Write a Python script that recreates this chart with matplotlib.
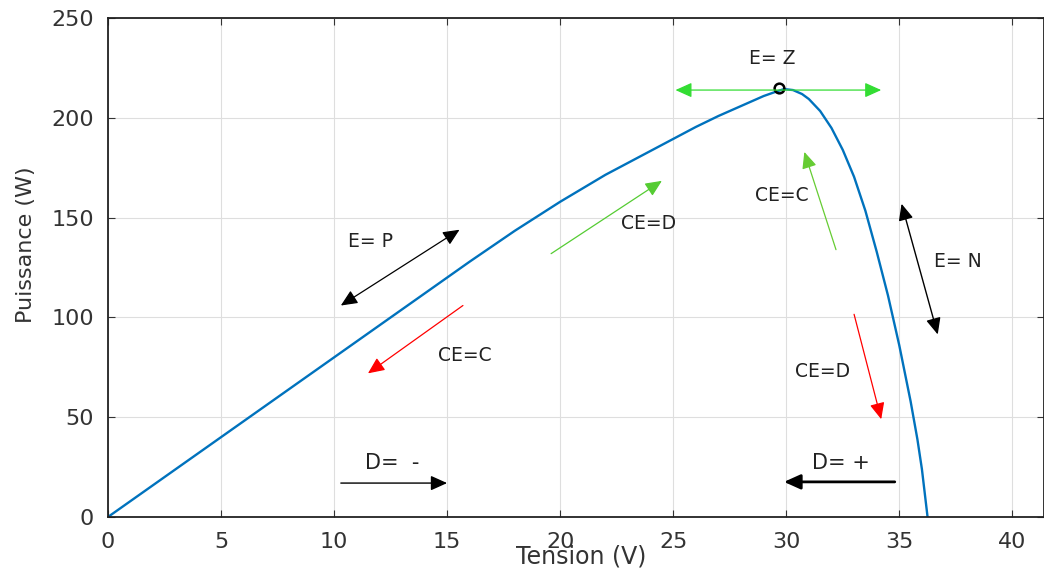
import numpy as np
import matplotlib.pyplot as plt

plt.rcParams['font.family'] = ['DejaVu Sans']

# P-V curve
tension = [0, 2, 4, 6, 8, 10, 12, 14, 16, 18, 20, 22, 24, 25, 26, 27, 28, 28.5,
           29, 29.5, 29.9, 30.3, 30.7, 31, 31.5, 32, 32.5, 33, 33.5, 34, 34.5,
           35, 35.5, 35.8, 36, 36.25]
puissance = [0, 16, 32, 48, 64, 80, 96, 112, 128, 143.5, 158, 171.5, 183.5,
             189.5, 195.5, 201, 206, 208.5, 211, 213, 214.5, 214, 212, 209.5,
             203.5, 195, 184, 170.5, 153.5, 133, 111, 86, 58, 39, 24, 0]
mpp = (29.7, 215)

# labels: (text, x, y)
labels = [
    ('E= Z', 29.4, 230),
    ('E= P', 11.6, 138),
    ('CE=C', 15.8, 81),
    ('CE=D', 23.9, 147),
    ('CE=C', 29.8, 161),
    ('E= N', 37.6, 128),
    ('CE=D', 31.6, 73),
    ('D=  -', 12.55, 27),
    ('D= +', 32.4, 27),
]
# arrows: (start, end, colour, style, width)
arrows = [
    ((25.1, 214), (34.2, 214), '#33dd33', '<|-|>', 0.9),
    ((10.3, 106), (15.55, 144), 'black', '<|-|>', 0.9),
    ((15.7, 106), (11.5, 72), 'red', '-|>', 0.9),
    ((19.6, 132), (24.5, 168.5), '#55cc33', '-|>', 0.9),
    ((32.2, 134), (30.8, 183), '#66cc33', '-|>', 0.9),
    ((35.1, 157), (36.7, 91.5), 'black', '<|-|>', 1.0),
    ((33.0, 101.6), (34.2, 49), 'red', '-|>', 0.9),
    ((10.3, 17), (15.0, 17), 'black', '-|>', 1.0),
    ((34.8, 17.6), (29.9, 17.6), 'black', '-|>', 2.0),
]

fig = plt.figure(figsize=(10.44, 5.7), dpi=100)
ax = fig.add_axes([0.1034, 0.093, 0.8966, 0.875])

ax.plot(tension, puissance, color='#0072BD', lw=1.7)
ax.plot(*mpp, 'o', mfc='none', mec='black', mew=1.8, ms=7)

for (x0, y0), (x1, y1), c, st, lw in arrows:
    ax.annotate('', xy=(x1, y1), xytext=(x0, y0),
                arrowprops=dict(arrowstyle=st + ',head_length=1.0,head_width=0.45',
                                color=c, lw=lw, shrinkA=0, shrinkB=0))

for t, x, y in labels:
    fs = 15 if t.startswith('D=') else 13.5
    ax.text(x, y, t, fontsize=fs, ha='center', va='center', color='#222222')

ax.set_xlim(0, 41.4)
ax.set_ylim(0, 250)
ax.set_xticks(np.arange(0, 41, 5))
ax.set_yticks(np.arange(0, 251, 50))
ax.grid(True, color='#dedede', lw=0.8)
ax.set_axisbelow(True)
ax.tick_params(direction='in', length=5, labelsize=16, colors='#333333',
               top=True, right=True)
ax.tick_params(axis='y', pad=10)
ax.tick_params(axis='x', pad=11)
for s in ax.spines.values():
    s.set_linewidth(1.3)
    s.set_color('#222222')

ax.set_xlabel('Tension (V)', fontsize=17, va='center', color='#333333')
ax.xaxis.set_label_coords(0.506, -0.08)
ax.set_ylabel('Puissance (W)', fontsize=16, va='center', color='#333333')
ax.yaxis.set_label_coords(-0.088, 0.545)

fig.savefig('out.png', dpi=100)
